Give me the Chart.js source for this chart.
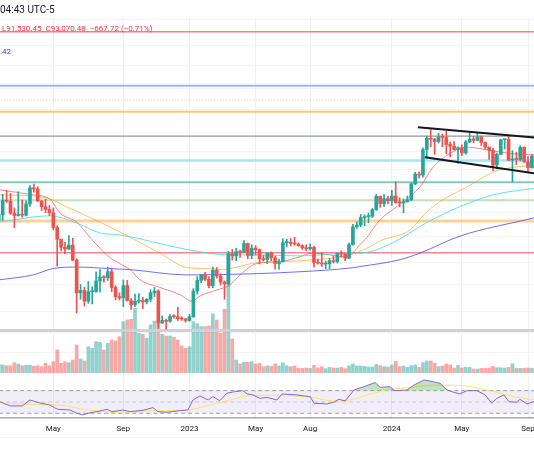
<!DOCTYPE html>
<html>
<head>
<meta charset="utf-8">
<script src="https://cdn.jsdelivr.net/npm/chart.js@4.4.1/dist/chart.umd.min.js"></script>
<style>
  html, body { margin: 0; padding: 0; background: #fff; }
  #wrap { position: relative; width: 534px; height: 462px; overflow: hidden; font-family: Roboto, sans-serif; }
  #wrap canvas { position: absolute; left: 0; top: 0; }
  .txt { position: absolute; white-space: nowrap; line-height: 1; }
  #foot { position: absolute; left: 0; top: 437px; width: 534px; height: 1px; background: #f0f3fa; }
</style>
</head>
<body>
<div id="wrap">
  <canvas id="chart" width="534" height="462" style="width:534px;height:462px"></canvas>
  <div class="txt" style="left:0; top:5px; font-size:10px; color:#131722">04:43 UTC-5</div>
  <div class="txt" style="left:2px; top:25px; font-size:8px; color:#f23645">L91,530.45&nbsp; C93,070.48&nbsp; −667.72 (−0.71%)</div>
  <div class="txt" style="left:0; top:48px; font-size:8px; color:#2e3cf0">.42</div>
  <div id="foot"></div>
</div>
<script>
// weekly BTC bars, index 0 = week of 24 Jan 2022, prices in thousand USD
const opens = [36.3,37.9,42.4,42.2,38.4,37.7,38.0,37.8,41.3,46.8,46.4,42.2,40.4,39.5,38.5,34.3,31.3,29.4,29.0,29.9,
  26.6,20.6,21.0,19.3,20.8,20.8,22.6,23.3,23.2,24.3,21.5,20.0,19.8,21.8,19.4,18.8,19.3,19.4,19.2,19.6,
  20.6,20.9,16.3,16.6,16.5,17.13,17.1,16.84,16.8,16.6,17.1,20.9,22.7,23.7,22.9,21.8,24.6,23.5,22.4,22.1,
  28.0,27.5,28.4,28.3,30.3,27.6,29.2,28.9,26.9,26.7,28.1,27.1,25.9,26.3,30.5,30.6,30.3,30.2,29.8,29.3,
  29.1,29.4,26.1,26.0,25.8,25.85,26.5,26.3,28.0,27.9,27.0,30.0,34.5,35.0,37.1,37.4,37.5,39.5,43.8,41.4,
  43.0,42.3,43.9,41.7,41.6,42.0,42.6,48.3,52.1,51.7,63.1,68.9,68.4,67.2,69.7,69.4,65.7,64.9,63.1,64.0,
  61.5,67.0,68.5,67.8,69.6,66.7,64.3,62.7,55.9,60.8,68.2,68.3,58.1,58.7,58.4,64.2,57.3,54.8];
const highs = [38.9,44.5,45.9,44.8,40.0,45.4,42.6,42.3,47.6,48.2,47.2,42.4,42.9,40.8,40.0,34.8,31.4,30.6,32.2,31.6,
  26.9,22.0,21.5,22.5,21.6,24.3,24.7,23.6,25.2,25.0,21.8,20.6,22.8,22.7,19.7,20.4,20.5,19.9,19.7,21.1,
  21.5,21.1,17.2,16.8,17.4,17.4,18.4,17.1,16.9,17.4,21.3,23.4,23.8,24.2,23.4,25.2,25.1,23.9,22.6,28.5,
  28.9,29.2,28.8,31.0,30.4,30.0,29.8,29.0,27.6,28.2,28.4,27.4,26.8,31.4,31.3,31.5,31.8,30.4,30.0,30.0,
  30.2,29.7,26.8,28.2,26.4,26.9,27.5,28.1,28.6,28.0,30.4,35.2,35.9,38.0,37.9,38.4,39.8,44.5,43.9,44.4,
  43.8,45.9,49.0,43.3,42.9,43.9,48.6,52.8,52.9,64.0,70.1,73.8,68.9,71.7,71.3,72.8,66.9,67.2,64.5,65.5,
  67.7,71.9,70.0,72.0,70.2,66.9,64.5,63.8,61.4,68.4,68.4,70.0,62.6,61.8,65.0,64.5,59.8,60.7];
const lows = [33.0,36.3,41.7,38.0,34.3,37.5,37.2,37.6,40.5,45.2,42.1,39.2,38.5,37.7,33.7,25.4,28.6,28.0,28.9,26.5,
  17.6,19.6,18.6,19.0,18.9,20.7,20.7,22.4,22.7,20.8,19.5,19.5,18.5,19.3,18.1,18.5,19.0,18.2,18.9,19.2,
  20.0,15.6,16.2,15.5,16.4,16.9,16.6,16.6,16.4,16.5,17.0,20.4,22.3,22.6,21.4,21.4,23.1,21.9,19.6,21.9,
  26.6,26.5,27.2,28.2,26.9,26.9,27.7,25.8,26.4,25.9,26.5,24.8,24.8,26.2,29.5,29.7,29.9,29.6,28.9,28.6,
  28.7,25.2,25.8,25.3,24.9,24.9,26.0,26.0,27.2,26.5,26.9,29.9,34.1,34.5,34.8,35.6,37.1,39.2,40.2,40.5,
  41.3,40.8,41.5,40.3,38.5,41.8,42.3,48.0,50.5,50.9,59.0,64.5,60.8,66.4,64.5,61.0,59.7,62.8,56.6,60.2,
  60.8,66.6,66.6,67.6,65.1,63.3,58.4,53.5,54.3,60.6,63.4,57.9,49.0,56.1,57.8,57.2,52.6,54.6];
const closes = [37.9,42.4,42.2,38.4,37.7,38.0,37.8,41.3,46.8,46.4,42.2,40.4,39.5,38.5,34.3,31.3,29.4,29.0,29.9,26.6,
  20.6,21.0,19.3,20.8,20.8,22.6,23.3,23.2,24.3,21.5,20.0,19.8,21.8,19.4,18.8,19.3,19.4,19.2,19.6,20.6,
  20.9,16.3,16.6,16.5,17.13,17.1,16.84,16.8,16.6,17.1,20.9,22.7,23.7,22.9,21.8,24.6,23.5,22.4,22.1,28.0,
  27.5,28.4,28.3,30.3,27.6,29.2,28.9,26.9,26.7,28.1,27.1,25.9,26.3,30.5,30.6,30.3,30.2,29.8,29.3,29.1,
  29.4,26.1,26.0,25.8,25.85,26.5,26.3,28.0,27.9,27.0,30.0,34.5,35.0,37.1,37.4,37.5,39.5,43.8,41.4,43.0,
  42.3,43.9,41.7,41.6,42.0,42.6,48.3,52.1,51.7,63.1,68.9,68.4,67.2,69.7,69.4,65.7,64.9,63.1,64.0,61.5,
  67.0,68.5,67.8,69.6,66.7,64.3,62.7,55.9,60.8,68.2,68.3,58.1,58.7,58.4,64.2,57.3,54.8,60.0];
// volume, thousand units
const volumes = [8,7.7,7,7,10,8.7,7,7.5,7.5,6.5,7,6,9.4,7,11,22.7,9.4,11,10,12.7,
  27.7,13.7,11.7,26,24.4,31,30.4,22.7,29.4,32.7,31.7,36,51,52.7,53.4,64.4,39.4,38.4,34.4,47.7,
  51.7,51.7,38.4,36.7,36.7,35.4,32.7,26.7,24.4,26,51,49,46,46,46.7,58.7,52.7,39.4,63.4,116,
  33.7,12.7,8.7,10.4,10.4,11,8.7,9.4,6,6.7,6.5,8.7,6.8,10,7,6,6.7,4.3,4.3,4.7,
  4.3,7.3,4.7,6,4,5.3,4.7,4.7,5.3,4,6.7,8.7,6.7,6.7,6.3,5.7,5.7,8.3,7,6,
  5.7,7.7,11.3,6,6.7,5.3,7,7.7,5.3,10,11.7,11.7,9.7,6,6.7,8.7,7.7,4.7,7.3,4.7,
  5.3,5.3,3.7,3.7,4.3,4.3,4.7,6.3,5,5,4.7,5.3,9,4.3,4.3,4.3,4.7,4.3];

// moving averages (week index, price)
const redWeeks = [0,8.8,13.1,15.7,20.1,23.4,26,28.6,31.1,33.7,36.3,41.4,46.6,49.6,51.7,56.1,59.4,62,66.3,72.3,
  76.6,80.7,85.1,89.5,92.8,94.6,98,102.3,108.2,111.6,116,120.3,125.5,131.4,137.5];
const redMa = [46.1,44.3,42.9,38.5,35.7,31.8,29.2,27.1,25.9,24.7,22.8,21.5,20.3,19.3,20.1,21.1,21.9,23.7,25.9,26.3,
  27.1,28.1,27.7,27.3,30.0,31.8,36.5,40.4,47.1,55.0,61.2,64.3,63.0,61.2,60.6];
const orangeWeeks = [0,8.8,13.1,17.5,26,33.7,41.4,48.4,54.3,57.6,59.4,66.6,73,81.8,90.2,94.6,98.7,103.1,105.7,110,
  114.2,120.3,127,133.2,137.5];
const orangeMa = [44.3,43.9,42.9,40.3,35.8,31.8,28.1,25.1,24.9,24.7,24.9,26.1,26.3,26.7,27.7,29.2,31.2,32.4,33.7,38.8,
  42.7,47.1,52.9,55.2,55.6];
const cyanWeeks = [0,13.1,20.1,26,31.1,48.4,59.4,64.6,77.4,90.2,92.8,101.3,110,118.5,127,137.5];
const cyanMa = [35.8,37.6,35.5,32.9,32.4,28.9,27.7,27.7,27.5,28.1,28.1,30.5,35.7,40.4,44.3,46.6];
const blueWeeks = [0,8.8,13.9,20.1,28.6,33.7,48.4,64.6,77.4,90.2,92.8,103.1,108.2,118.5,137.5];
const blueMa = [22.8,23.7,24.9,25.2,24.9,24.7,23.7,23.9,24.3,25.0,25.3,26.7,28.1,32.1,37.0];

// RSI and its average
const rsiWeeks = [0,1.6,3,6,8,10.6,13.1,14.4,15.2,18.3,20,21.6,23.4,25.2,27.8,29.1,31.9,33.7,37.1,39.6,
  40.9,43.2,46.6,48.6,49.9,51.7,53.8,55,56.8,58.6,60.2,62.7,63.8,65.3,67.1,68.9,71.5,72.8,76.6,80,
  81,84.3,86.1,87.4,89,91.3,93.8,96.7,98,100.5,101.8,104.9,106.7,109.3,110.8,113.4,115.2,117.2,118.5,120.3,
  122.9,125,126.7,128,129.8,131.1,133.2,133.9,135.7,137.5];
const rsiValues = [51,46.5,43,43,53.5,48,44.7,39.4,37,35.8,30,27,31,32.8,37,32.8,35.8,32.8,35.3,40,
  32.8,31.8,34.6,35.8,53.5,60.6,53.5,59.4,52.3,65.4,67.7,70,64.2,62.4,56.5,58,53.5,64.2,62.4,59.4,
  47.7,46.5,49.5,54.8,51.8,71.2,77,84.2,76,77,70,71.2,80,88.9,87,83,71.2,66.5,64.2,70,
  70,62.4,47.7,56.5,62.4,50.5,49.5,54.8,46.5,50.5];
const rsiMaWeeks = [0.3,7.2,13.1,17.4,21.7,26,30.3,34.6,38.9,43.1,48.3,51.7,56,60.3,63.7,68.8,74,80,86.1,90.3,
  94.6,98.9,103.2,107.5,111.8,116.9,122,127.2,132.3,137.5];
const rsiMaValues = [48.8,45.9,45.2,42.9,37.1,34.1,31.8,32.8,34.6,34.6,35.8,39.9,47.7,54.8,60.6,61.9,61.2,58.3,51.8,53.5,
  62.4,70,74.2,77.1,79.6,79.6,76,68.2,59.4,53.5];
const rsiLevels = [70, 50, 30];

// horizontal drawings and trend channel
const levels = [158.5, 103.9, 84.8, 70.1, 57.9, 48.9, 42.5, 36.1, 28.2, 15.35];
const levelColors = ['#f77c80','#9fb4ff','#ffc56e','#9598a1','#aee4ec','#83c9c1','#c3e3b5','#ffd199','#f7868b','#cfd1d6'];
const levelWidths = [1.5, 2, 2, 1.2, 2.5, 2, 2, 3, 1.5, 3];
const lastPrice = 93.07048;
const channelTop = [[107.7, 75.1], [137.6, 69.4]];
const channelBottom = [[109.5, 59.4], [137.6, 52.4]];

// axis ticks
const tickWeeks = [14, 32, 49, 66, 80, 101, 119, 136];
const tickLabels = ['May', 'Sep', '2023', 'May', 'Aug', '2024', 'May', 'Sep'];
const priceGrid = [174.6,142.5,121.9,101.8,86.4,72.1,62.2,54.0,46.2,38.6,32.0,26.1,22.0,17.8,15.1,12.9];

const xMin = 0.302, xMax = 137.54;
const UP = '#26a69a', DOWN = '#ef5350';
const isUp = opens.map((o, i) => closes[i] >= o);

const pts = (xs, ys) => xs.map((x, i) => ({x: x, y: ys[i]}));
const flat = (v) => [{x: xMin - 2, y: v}, {x: xMax + 2, y: v}];

const datasets = [];

// candles
datasets.push({
  type: 'bar', yAxisID: 'y', order: 2, grouped: false, barThickness: 1,
  data: lows.map((l, i) => ({x: i, y: [l, highs[i]]})),
  backgroundColor: isUp.map(u => u ? UP : DOWN)
});
datasets.push({
  type: 'bar', yAxisID: 'y', order: 1, grouped: false, barThickness: 3, minBarLength: 1,
  data: opens.map((o, i) => ({x: i, y: [o, closes[i]]})),
  backgroundColor: isUp.map(u => u ? UP : DOWN)
});

// volume
datasets.push({
  type: 'bar', yAxisID: 'yVol', order: 20, grouped: false, barThickness: 3,
  data: volumes.map((v, i) => ({x: i, y: v})),
  backgroundColor: isUp.map(u => u ? 'rgba(38,166,154,0.5)' : 'rgba(239,83,80,0.5)')
});

// level lines
levels.forEach((v, k) => {
  datasets.push({
    type: 'line', yAxisID: 'y', order: 15, data: flat(v),
    borderColor: levelColors[k], borderWidth: levelWidths[k], pointRadius: 0
  });
});
datasets.push({
  type: 'line', yAxisID: 'y', order: 14, data: flat(lastPrice),
  borderColor: 'rgba(242,54,69,0.35)', borderWidth: 1, borderDash: [1, 2], pointRadius: 0
});

// moving averages
[[blueWeeks, blueMa, 'rgba(85,85,245,0.85)'],
 [cyanWeeks, cyanMa, 'rgba(64,216,232,0.8)'],
 [orangeWeeks, orangeMa, 'rgba(255,152,0,0.6)'],
 [redWeeks, redMa, 'rgba(242,54,69,0.6)']].forEach(m => {
  datasets.push({
    type: 'line', yAxisID: 'y', order: 5, data: pts(m[0], m[1]),
    borderColor: m[2], borderWidth: 1, pointRadius: 0, cubicInterpolationMode: 'monotone'
  });
});

// channel
[channelTop, channelBottom].forEach(c => {
  datasets.push({
    type: 'line', yAxisID: 'y', order: 0,
    data: c.map(p => ({x: p[0], y: p[1]})),
    borderColor: '#131722', borderWidth: 2, pointRadius: 0
  });
});

// RSI pane: band 70..30
rsiLevels.forEach((v, k) => {
  datasets.push({
    type: 'line', yAxisID: 'yRsi', order: 12, data: flat(v),
    borderColor: k === 1 ? 'rgba(120,123,134,0.35)' : 'rgba(120,123,134,0.7)',
    borderWidth: 1, borderDash: [4, 3], pointRadius: 0,
    fill: k === 0 ? '+2' : false,
    backgroundColor: 'rgba(126,87,194,0.1)'
  });
});
datasets.push({
  type: 'line', yAxisID: 'yRsi', order: 4, data: pts(rsiMaWeeks, rsiMaValues),
  borderColor: '#fbe26a', borderWidth: 1, pointRadius: 0, cubicInterpolationMode: 'monotone'
});
datasets.push({
  type: 'line', yAxisID: 'yRsi', order: 3, data: pts(rsiWeeks, rsiValues),
  borderColor: '#8a63d2', borderWidth: 1, pointRadius: 0,
  fill: {target: {value: 70}, above: 'rgba(76,175,80,0.35)', below: 'rgba(0,0,0,0)'}
});

Chart.defaults.font.family = 'Roboto, sans-serif';

new Chart(document.getElementById('chart'), {
  type: 'bar',
  data: {datasets: datasets},
  options: {
    responsive: false,
    animation: false,
    devicePixelRatio: 1,
    layout: {padding: {top: 18, left: 0, right: 0, bottom: 0}},
    plugins: {legend: {display: false}, tooltip: {enabled: false}},
    scales: {
      x: {
        type: 'linear', min: xMin, max: xMax, bounds: 'data', offset: false,
        grid: {offset: false, color: '#eaf0f6', drawTicks: false},
        border: {color: '#a7aab3', width: 1.5},
        afterBuildTicks: s => { s.ticks = tickWeeks.map(v => ({value: v})); },
        afterFit: s => { s.paddingLeft = 0; s.paddingRight = 0; s.height = 44; },
        ticks: {
          autoSkip: false, maxRotation: 0, minRotation: 0, padding: 6,
          color: '#131722', font: {size: 8},
          callback: v => tickLabels[tickWeeks.indexOf(v)]
        }
      },
      y: {
        type: 'logarithmic', position: 'right', min: 7.7502, max: 176.395, bounds: 'data',
        grid: {color: '#f2f4f8', drawTicks: false},
        border: {display: false},
        ticks: {display: false},
        afterBuildTicks: s => { s.ticks = priceGrid.map(v => ({value: v})); },
        afterFit: s => { s.width = 0; }
      },
      yVol: {axis: 'y', type: 'linear', display: false, min: -45.3, max: 354.7},
      yRsi: {axis: 'y', type: 'linear', display: false, min: 21.6, max: 729.6}
    }
  }
});
</script>
</body>
</html>
